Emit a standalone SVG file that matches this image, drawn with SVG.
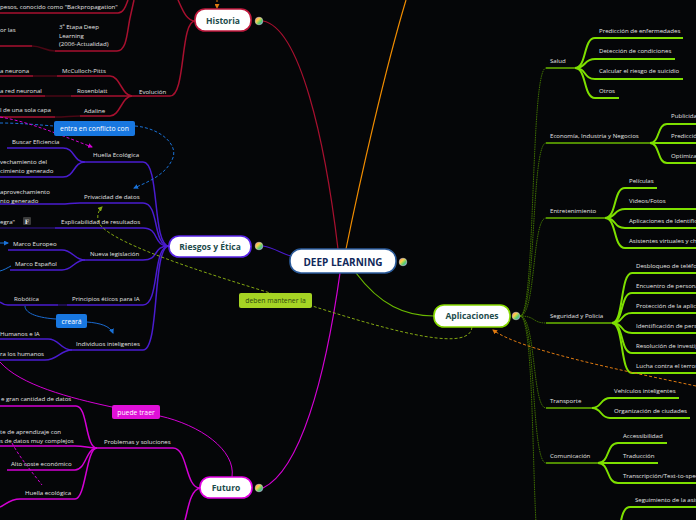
<svg xmlns="http://www.w3.org/2000/svg" width="696" height="520" viewBox="0 0 696 520">
<defs>
<style>
.t{font-family:"Open Sans","Noto Sans",sans-serif;font-size:6.1px;fill:#e4e4e4}
.nb{font-family:"Open Sans","Noto Sans",sans-serif;font-weight:bold;fill:#1d4b4b;text-anchor:middle}
.lb{font-family:"Open Sans","Noto Sans",sans-serif;font-size:6.8px;fill:#ffffff;text-anchor:middle}
.node{fill:#ffffff;stroke-width:1.6}
.h{fill:none;stroke:#a8102f;stroke-width:1.5}
.hd{fill:none;stroke:#4a0714;stroke-width:1.5}
.r{fill:none;stroke:#4a1cd0;stroke-width:1.5}
.rd{fill:none;stroke:#241066;stroke-width:1.5}
.f{fill:none;stroke:#d400d4;stroke-width:1.5}
.g{fill:none;stroke:#7ee000;stroke-width:2}
.gc{fill:none;stroke:#6ab800;stroke-width:1.5}
.gt{fill:none;stroke:#4e8a00;stroke-width:0.8;stroke-dasharray:1.5,0.8}
.ic{stroke:#cfcfcf;stroke-width:0.6}
</style>
<linearGradient id="icg" x1="0" y1="0" x2="1" y2="1">
<stop offset="0" stop-color="#ff6a5a"/><stop offset="0.35" stop-color="#ffd24a"/><stop offset="0.65" stop-color="#5ad06a"/><stop offset="1" stop-color="#4a8aff"/>
</linearGradient>
<marker id="aB" viewBox="0 0 10 10" refX="8" refY="5" markerWidth="5" markerHeight="5" orient="auto"><path d="M0,0 L10,5 L0,10 z" fill="#1a72d8"/></marker>
<marker id="aM" viewBox="0 0 10 10" refX="8" refY="5" markerWidth="5" markerHeight="5" orient="auto"><path d="M0,0 L10,5 L0,10 z" fill="#d400d4"/></marker>
<marker id="aO" viewBox="0 0 10 10" refX="8" refY="5" markerWidth="5" markerHeight="5" orient="auto"><path d="M0,0 L10,5 L0,10 z" fill="#e07a10"/></marker>
<marker id="aY" viewBox="0 0 10 10" refX="8" refY="5" markerWidth="5" markerHeight="5" orient="auto"><path d="M0,0 L10,5 L0,10 z" fill="#9ac414"/></marker>
</defs>
<rect x="0" y="0" width="696" height="520" fill="#050608"/>

<g id="connectors">
<path d="M263,21 C300,28 325,140 338,249" fill="none" stroke="#a8102f" stroke-width="1.2"/>
<path d="M346,249 C360,180 385,70 406,0" fill="none" stroke="#f08c00" stroke-width="1.2"/>
<path d="M263,246 C275,248 282,254 291,256" fill="none" stroke="#4a1cd0" stroke-width="1.2"/>
<path d="M263,488 C300,470 325,380 340,273" fill="none" stroke="#d400d4" stroke-width="1.2"/>
<path d="M356,273 C380,305 405,316 434,316" fill="none" stroke="#6ab800" stroke-width="1.2"/>

<path class="h" d="M195,21 C186,21 182,8 178,0"/>
<path class="h" d="M195,21 C180,21 186,96 170,96"/>
<path class="h" d="M132,96 H170"/>
<path class="h" d="M0,13 H118 C124,13 126,5 128,0"/>
<path class="h" d="M55,51 H117 C127,51 127,32 130,18 L134,0"/>
<path class="h" d="M0,46 H32"/>
<path class="hd" d="M32,46 C42,46 45,51 55,51"/>
<path class="h" d="M57,76 H110 C120,76 122,96 132,96"/>
<path class="h" d="M71,96 H132"/>
<path class="h" d="M80,116 H110 C120,116 122,96 132,96"/>
<path class="h" d="M0,76 H33"/><path class="hd" d="M33,76 H57"/>
<path class="h" d="M0,96 H45"/><path class="hd" d="M45,96 H71"/>
<path class="h" d="M0,117 H55"/><path class="hd" d="M55,117 C66,117 70,116 80,116"/>

<path class="r" d="M169,246 C152,246 160,162 143,162"/>
<path class="r" d="M169,246 C152,246 160,203 143,203"/>
<path class="r" d="M169,246 C152,246 160,228 143,228"/>
<path class="r" d="M169,246 C152,246 160,260 143,260"/>
<path class="r" d="M169,246 C152,246 160,305 143,305"/>
<path class="r" d="M169,246 C152,246 160,350 143,350"/>
<path class="r" d="M85,162 H143"/>
<path class="r" d="M80,203 H143"/>
<path class="r" d="M55,228 H143"/>
<path class="r" d="M85,260 H143"/>
<path class="r" d="M67,305 H143"/>
<path class="r" d="M72,350 H143"/>
<path class="r" d="M7,148 H63 C75,148 73,162 85,162"/>
<path class="r" d="M0,177 H63 C75,177 73,162 85,162"/>
<path class="r" d="M0,204 H60 C70,204 70,203 80,203"/>
<path class="rd" d="M0,228 H55"/>
<path class="r" d="M8,250 H62 C73,250 74,260 85,260"/>
<path class="r" d="M10,270 H62 C73,270 74,260 85,260"/>
<path class="r" d="M8,305 H58"/><path class="rd" d="M58,305 H67"/>
<path class="r" d="M0,302 C4,305 6,305 8,305"/>
<path class="r" d="M0,339 H48 C60,339 60,350 72,350"/>
<path class="r" d="M0,360 H45 C58,360 60,350 72,350"/>

<path class="f" d="M200,488 C185,488 188,448 173,448"/>
<path class="f" d="M200,488 C190,490 188,510 185,520"/>
<path class="f" d="M97,448 H173"/>
<path class="f" d="M0,406 H76 C88,406 85,448 97,448"/>
<path class="f" d="M0,446 H75 C85,446 88,448 97,448"/>
<path class="f" d="M7,470 H75 C86,470 86,448 97,448"/>
<path class="f" d="M20,499 H75 C86,499 86,448 97,448"/>
<path class="f" d="M20,499 C10,499 5,505 0,507"/>
<path d="M232,477 C236,450 200,425 160,416" fill="none" stroke="#d400d4" stroke-width="1"/>
<path d="M112,407 C70,398 20,385 0,362" fill="none" stroke="#d400d4" stroke-width="1"/>

<path class="gt" d="M520,316 C536,316 530,68 546,68"/>
<path class="gt" d="M520,316 C536,316 531,143 546,143"/>
<path class="gt" d="M520,316 C536,316 532,218 546,218"/>
<path class="gt" d="M520,316 C536,316 532,323 546,323"/>
<path class="gt" d="M520,316 C536,316 532,408 546,408"/>
<path class="gt" d="M520,316 C536,316 531,463 546,463"/>
<path class="gt" d="M520,316 C536,316 531,530 540,560"/>
<path class="gc" d="M546,68 H575"/>
<path class="gc" d="M546,143 H650"/>
<path class="gc" d="M546,218 H605"/>
<path class="gc" d="M546,323 H612"/>
<path class="gc" d="M546,408 H592"/>
<path class="gc" d="M546,463 H598"/>
<path class="g" d="M575,68 C587,68 583,38 595,38 H683"/>
<path class="g" d="M575,68 C587,68 583,59 595,59 H675"/>
<path class="g" d="M575,68 C587,68 583,79 595,79 H683"/>
<path class="g" d="M575,68 C587,68 583,98 595,98 H619"/>
<path class="g" d="M650,143 C660,143 657,124 667,124 H700"/>
<path class="g" d="M650,143 H700"/>
<path class="g" d="M650,143 C660,143 657,163 667,163 H700"/>
<path class="g" d="M605,218 C617,218 613,188 625,188 H657"/>
<path class="g" d="M605,218 C617,218 613,209 625,209 H700"/>
<path class="g" d="M605,218 C617,218 613,228 625,228 H700"/>
<path class="g" d="M605,218 C617,218 613,248 625,248 H700"/>
<path class="g" d="M612,323 C624,323 620,273 632,273 H700"/>
<path class="g" d="M612,323 C624,323 620,293 632,293 H700"/>
<path class="g" d="M612,323 C624,323 620,313 632,313 H700"/>
<path class="g" d="M612,323 C624,323 620,333 632,333 H700"/>
<path class="g" d="M612,323 C624,323 620,353 632,353 H700"/>
<path class="g" d="M612,323 C624,323 620,373 632,373 H700"/>
<path class="g" d="M592,408 C602,408 600,398 610,398 H679"/>
<path class="g" d="M592,408 C602,408 600,418 610,418 H690"/>
<path class="g" d="M598,463 C610,463 606,443 618,443 H667"/>
<path class="g" d="M598,463 H658"/>
<path class="g" d="M598,463 C610,463 606,483 618,483 H700"/>
<path class="g" d="M612,545 C622,540 618,507 630,507 H700"/>

<path d="M135,126 C160,128 180,145 172,160 C165,175 148,182 134,188" fill="none" stroke="#1a72d8" stroke-width="1" stroke-dasharray="3,2" marker-end="url(#aB)"/>
<path d="M0,123 C20,123 40,125 54,126" fill="none" stroke="#1a72d8" stroke-width="1" stroke-dasharray="3,2"/>
<path d="M25,306 C25,314 40,318 56,319" fill="none" stroke="#1a6ad0" stroke-width="1"/>
<path d="M87,322 C100,323 110,326 113,333" fill="none" stroke="#1a6ad0" stroke-width="1" marker-end="url(#aB)"/>
<path d="M0,243 H8" fill="none" stroke="#1a72d8" stroke-width="1" marker-end="url(#aB)"/>
<path d="M0,271 C4,270 7,268 11,266" fill="none" stroke="#1a72d8" stroke-width="1"/>
<path d="M0,117 C30,122 60,135 92,147" fill="none" stroke="#d400d4" stroke-width="1" stroke-dasharray="3,2" marker-end="url(#aM)"/>
<path d="M12,443 C20,458 32,472 42,485" fill="none" stroke="#d400d4" stroke-width="1" stroke-dasharray="3,2"/>
<path d="M217,0 V8" fill="none" stroke="#e07a10" stroke-width="1" stroke-dasharray="2,2" marker-end="url(#aO)"/>
<path d="M696,386 C620,370 520,350 493,330" fill="none" stroke="#e07a10" stroke-width="1" stroke-dasharray="3,2" marker-end="url(#aO)"/>
<path d="M472,327 C470,350 410,338 300,302 C200,272 100,240 98,220 C97,214 99,210 102,207" fill="none" stroke="#9ac414" stroke-width="1" stroke-dasharray="3,2" opacity="0.85" marker-end="url(#aY)"/>
</g>

<g id="deep-learning">
<rect class="node" x="290" y="249" width="106" height="24" rx="11" stroke="#2a5a9a"/>
<text x="343" y="265.5" class="nb" style="font-size:10px;fill:#10285a">DEEP LEARNING</text>
<circle cx="403" cy="262" r="3.8" fill="url(#icg)" class="ic"/>
</g>

<g id="historia">
<rect class="node" x="195" y="9" width="56" height="22" rx="10" stroke="#c0183c"/>
<text x="223" y="23.5" class="nb" style="font-size:8.5px">Historia</text>
<circle cx="259" cy="21" r="3.8" fill="url(#icg)" class="ic"/>
</g>
<g id="h-back"><text x="0" y="9" class="t">pesos, conocido como "Backpropagation"</text></g>
<g id="h-orlas"><text x="0" y="32" class="t">or las</text></g>
<g id="h-etapa3"><text class="t"><tspan x="59" y="29">3ª Etapa Deep</tspan><tspan x="59" y="37.5">Learning</tspan><tspan x="59" y="46">(2006-Actualidad)</tspan></text></g>
<g id="h-evolucion"><text x="139" y="94" class="t">Evolución</text></g>
<g id="h-mcculloch"><text x="62" y="73" class="t">McCulloch-Pitts</text></g>
<g id="h-rosenblatt"><text x="77" y="93" class="t">Rosenblatt</text></g>
<g id="h-adaline"><text x="84" y="113" class="t">Adaline</text></g>
<g id="h-neurona"><text x="0" y="73" class="t">a neurona</text></g>
<g id="h-red"><text x="0" y="93" class="t">a red neuronal</text></g>
<g id="h-capa"><text x="0" y="112" class="t">l de una sola capa</text></g>

<g id="riesgos">
<rect class="node" x="169" y="236" width="82" height="21" rx="10" stroke="#5a24e8"/>
<text x="210" y="249.5" class="nb" style="font-size:8.5px">Riesgos y Ética</text>
<circle cx="259" cy="246" r="3.8" fill="url(#icg)" class="ic"/>
</g>
<g id="r-huella"><text x="93" y="157" class="t">Huella Ecológica</text></g>
<g id="r-privacidad"><text x="84" y="199" class="t">Privacidad de datos</text></g>
<g id="r-explicabilidad"><text x="61" y="224" class="t">Explicabilidad de resultados</text></g>
<g id="r-legislacion"><text x="90" y="256" class="t">Nueva legislación</text></g>
<g id="r-principios"><text x="72" y="301" class="t">Principios éticos para IA</text></g>
<g id="r-individuos"><text x="76" y="346" class="t">Individuos inteligentes</text></g>
<g id="r-buscar"><text x="12" y="144" class="t">Buscar Eficiencia</text></g>
<g id="r-aprov1"><text class="t"><tspan x="0" y="164">vechamiento del</tspan><tspan x="0" y="173">cimiento generado</tspan></text></g>
<g id="r-aprov2"><text class="t"><tspan x="0" y="194">aprovechamiento</tspan><tspan x="0" y="203">nto generado</tspan></text></g>
<g id="r-negra"><text x="0" y="224" class="t">egra"</text>
<rect x="23" y="217" width="8" height="8" rx="1" fill="#3a3a3a"/>
<text x="27" y="223.5" style="font-family:'DejaVu Serif',serif;font-size:6px;fill:#f0f0f0;text-anchor:middle;font-weight:bold">F</text></g>
<g id="r-europeo"><text x="13" y="246" class="t">Marco Europeo</text></g>
<g id="r-espanol"><text x="15" y="266" class="t">Marco Español</text></g>
<g id="r-robotica"><text x="14" y="301" class="t">Robótica</text></g>
<g id="r-humanos-ia"><text x="0" y="336" class="t">Humanos e IA</text></g>
<g id="r-humanos"><text x="0" y="356" class="t">ra los humanos</text></g>
<g id="lbl-conflicto">
<rect x="54" y="121" width="81" height="15" rx="2" fill="#1877e0"/>
<text x="94.5" y="131" class="lb">entra en conflicto con</text>
</g>
<g id="lbl-creara">
<rect x="56" y="314" width="31" height="14" rx="2" fill="#1877e0"/>
<text x="71.5" y="323.5" class="lb">creará</text>
</g>
<g id="lbl-mantener">
<rect x="239" y="293" width="73" height="15" rx="2" fill="#a6d424"/>
<text x="275.5" y="303" class="lb" style="fill:#2d4a10">deben mantener la</text>
</g>

<g id="futuro">
<rect class="node" x="200" y="477" width="52" height="21" rx="10" stroke="#e000e0"/>
<text x="226" y="490.5" class="nb" style="font-size:8.5px">Futuro</text>
<circle cx="259" cy="488" r="3.8" fill="url(#icg)" class="ic"/>
</g>
<g id="f-problemas"><text x="104" y="444" class="t">Problemas y soluciones</text></g>
<g id="f-gran"><text x="1" y="401" class="t">e gran cantidad de datos</text></g>
<g id="f-aprendizaje"><text class="t"><tspan x="0" y="434">te de aprendizaje con</tspan><tspan x="0" y="442.5">s de datos muy complejos</tspan></text></g>
<g id="f-coste"><text x="11" y="466" class="t">Alto coste económico</text></g>
<g id="f-huella"><text x="25" y="495" class="t">Huella ecológica</text></g>
<g id="lbl-traer">
<rect x="112" y="405" width="48" height="14" rx="2" fill="#e010d8"/>
<text x="136" y="414.5" class="lb">puede traer</text>
</g>

<g id="aplicaciones">
<rect class="node" x="434" y="305" width="76" height="22" rx="10" stroke="#86d800"/>
<text x="472" y="319" class="nb" style="font-size:8.5px">Aplicaciones</text>
<circle cx="516" cy="316" r="3.8" fill="url(#icg)" class="ic"/>
</g>
<g id="a-salud"><text x="550" y="63" class="t">Salud</text></g>
<g id="a-economia"><text x="550" y="138" class="t">Economía, Industria y Negocios</text></g>
<g id="a-entretenimiento"><text x="550" y="213" class="t">Entretenimiento</text></g>
<g id="a-seguridad"><text x="550" y="318" class="t">Seguridad y Policia</text></g>
<g id="a-transporte"><text x="550" y="403" class="t">Transporte</text></g>
<g id="a-comunicacion"><text x="550" y="458" class="t">Comunicación</text></g>
<g id="a-s1"><text x="599" y="33" class="t">Predicción de enfermedades</text></g>
<g id="a-s2"><text x="599" y="53" class="t">Detección de condiciones</text></g>
<g id="a-s3"><text x="599" y="73" class="t">Calcular el riesgo de suicidio</text></g>
<g id="a-s4"><text x="599" y="93" class="t">Otros</text></g>
<g id="a-e1"><text x="671" y="118" class="t">Publicidad</text></g>
<g id="a-e2"><text x="671" y="138" class="t">Predicción</text></g>
<g id="a-e3"><text x="671" y="158" class="t">Optimización</text></g>
<g id="a-n1"><text x="629" y="183" class="t">Películas</text></g>
<g id="a-n2"><text x="629" y="203" class="t">Videos/Fotos</text></g>
<g id="a-n3"><text x="629" y="223" class="t">Aplicaciones de Identificación</text></g>
<g id="a-n4"><text x="629" y="243" class="t">Asistentes virtuales y chatbots</text></g>
<g id="a-p1"><text x="636" y="268" class="t">Desbloqueo de teléfonos</text></g>
<g id="a-p2"><text x="636" y="288" class="t">Encuentro de personas</text></g>
<g id="a-p3"><text x="636" y="308" class="t">Protección de la aplicación</text></g>
<g id="a-p4"><text x="636" y="328" class="t">Identificación de personas</text></g>
<g id="a-p5"><text x="636" y="348" class="t">Resolución de investigaciones</text></g>
<g id="a-p6"><text x="636" y="368" class="t">Lucha contra el terrorismo</text></g>
<g id="a-t1"><text x="614" y="393" class="t">Vehículos inteligentes</text></g>
<g id="a-t2"><text x="614" y="413" class="t">Organización de ciudades</text></g>
<g id="a-c1"><text x="623" y="438" class="t">Accessibilidad</text></g>
<g id="a-c2"><text x="623" y="458" class="t">Traducción</text></g>
<g id="a-c3"><text x="623" y="478" class="t">Transcripción/Text-to-speech</text></g>
<g id="a-b1"><text x="635" y="502" class="t">Seguimiento de la asistencia</text></g>
</svg>
